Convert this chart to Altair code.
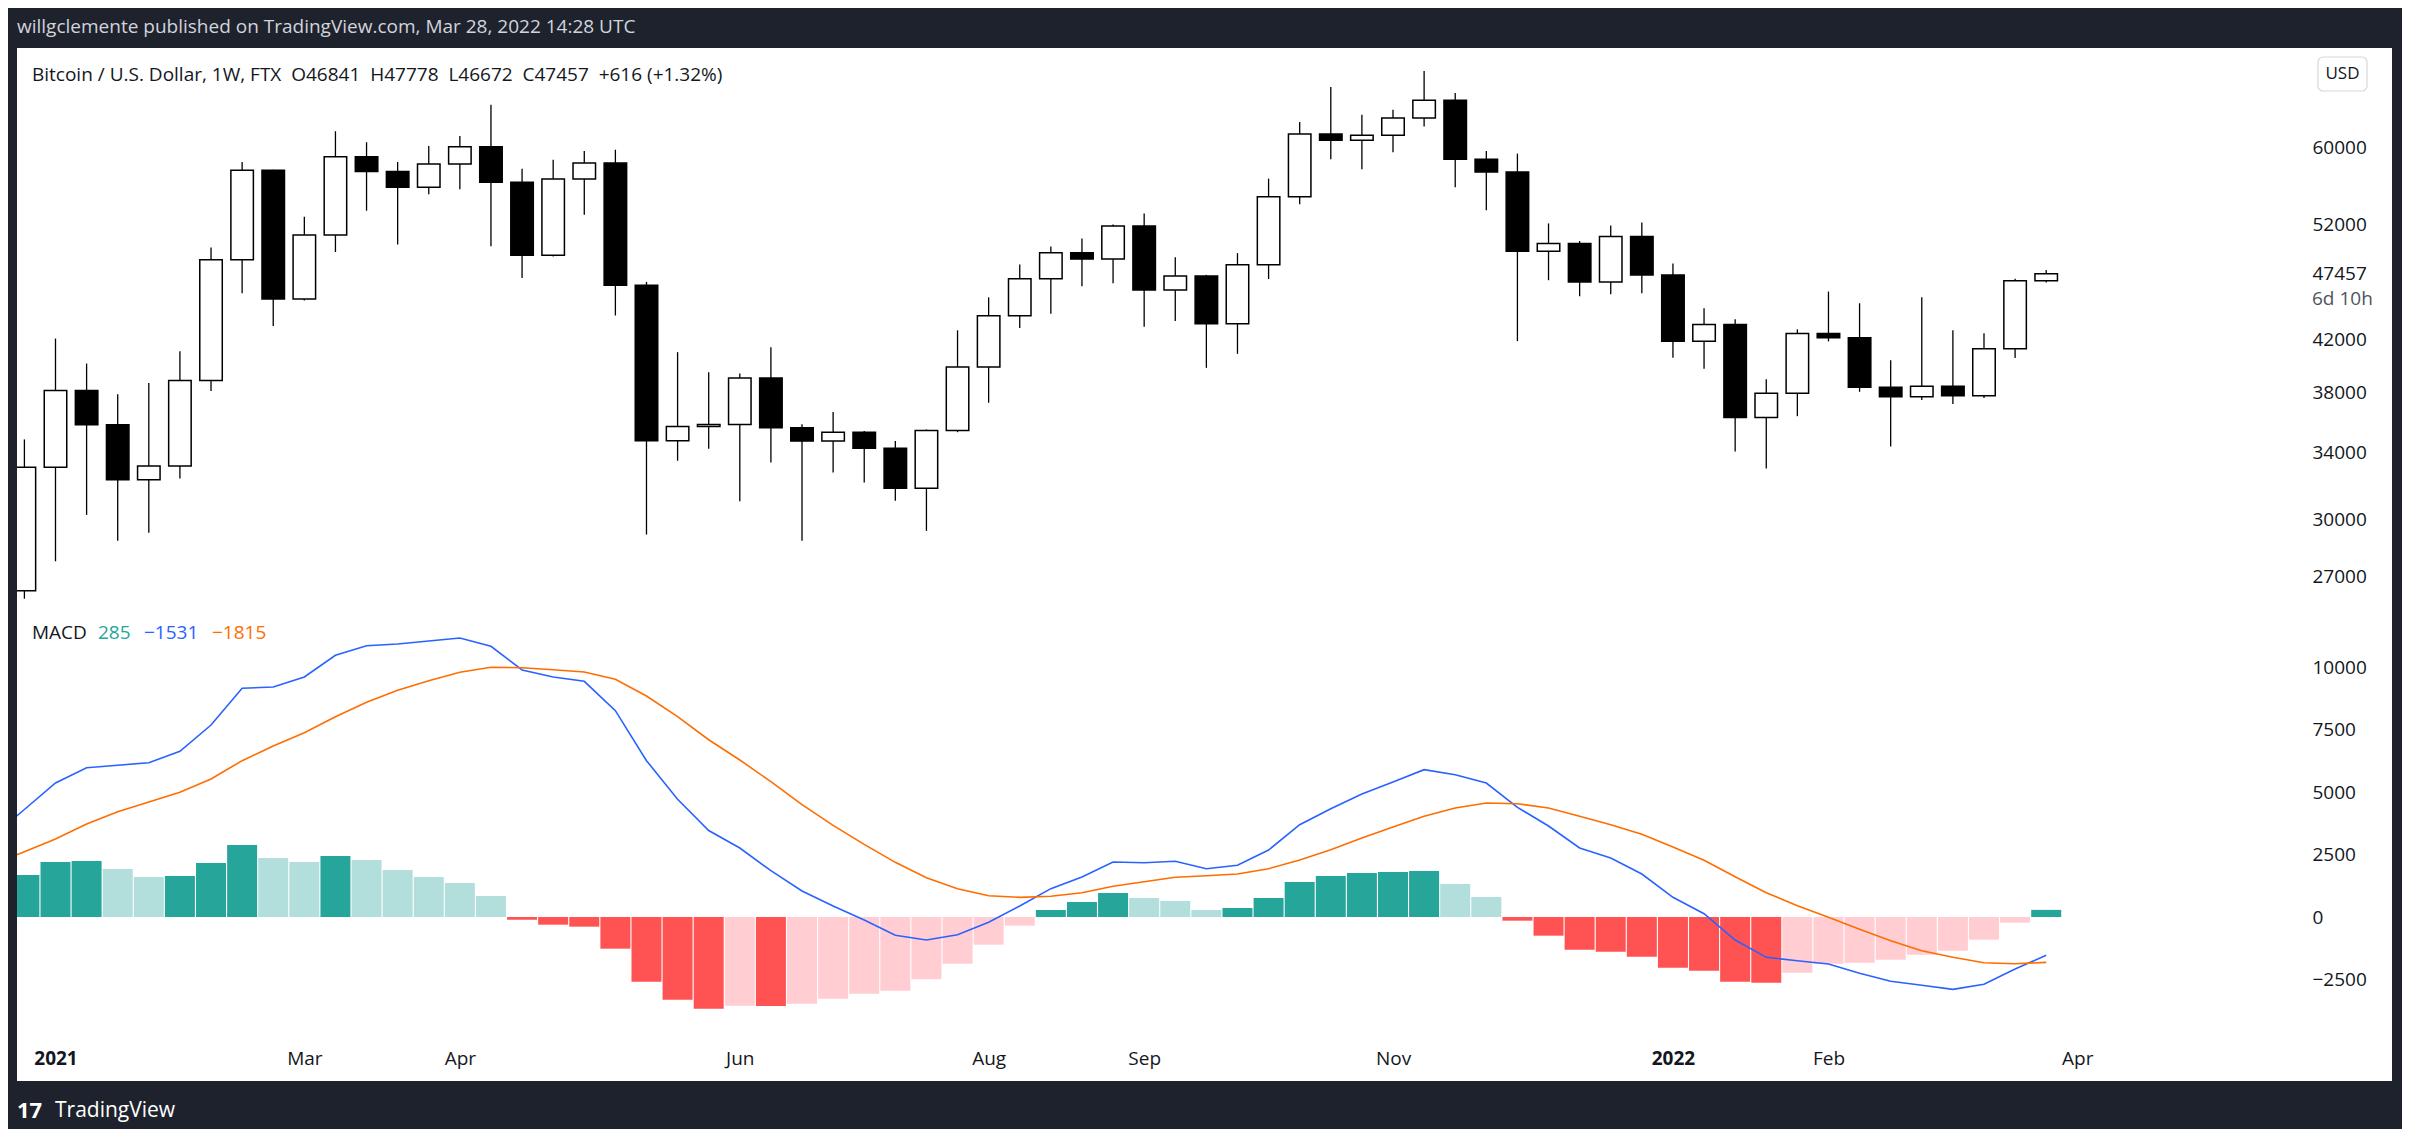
import altair as alt
import pandas as pd

# ---------------- data ----------------
dates = pd.date_range("2020-12-28", periods=66, freq="7D").strftime("%Y-%m-%d").tolist()
line_lead_date = "2020-12-21"

open_p = [26290, 33090, 38170, 35810, 32330, 33160, 38890, 48690, 57550, 45270,
          51010, 58990, 57400, 55750, 58210, 60100, 56270, 49120, 56610, 58330,
          46450, 34760, 35690, 35830, 39070, 35620, 34740, 35320, 34280, 31820,
          35440, 39880, 43870, 47010, 49330, 48760, 51860, 46040, 47260, 43230,
          48240, 54770, 61550, 60850, 61420, 63420, 65550, 58740, 57350, 49470,
          50190, 46730, 50850, 47340, 41850, 43170, 36300, 37970, 42440, 42120,
          38400, 37740, 38470, 37800, 41270, 46841]
high_p = [34850, 42050, 40140, 37910, 38710, 41060, 49830, 58440, 57600, 52770,
          61880, 60620, 58440, 60210, 61340, 64990, 57710, 58680, 59650, 59780,
          46730, 41000, 39500, 39400, 41380, 35850, 36670, 35400, 34740, 35500,
          42700, 45410, 48280, 49910, 50670, 52000, 53080, 48920, 47350, 49310,
          56650, 62960, 67190, 63790, 64390, 69220, 66430, 59650, 59350, 52110,
          50430, 51900, 52200, 48370, 44500, 43590, 38990, 42780, 45900, 44910,
          40380, 45410, 42700, 42470, 47010, 47778]
low_p = [25900, 27770, 30280, 28850, 29290, 32400, 38140, 45760, 43040, 45150,
         49410, 53360, 50100, 55020, 55540, 49940, 47070, 49000, 52970, 43900,
         29190, 33490, 34250, 31050, 33380, 28860, 32760, 32160, 31090, 29390,
         35320, 37310, 42890, 44050, 46360, 46610, 42980, 43440, 39820, 40870,
         46980, 54010, 58720, 57640, 59500, 62410, 55750, 53400, 41850, 46880,
         45500, 45660, 45760, 40570, 39750, 34070, 33010, 36390, 41830, 38080,
         34390, 37510, 37220, 37640, 40550, 46672]
close_p = [33090, 38170, 35810, 32330, 33160, 38890, 48690, 57550, 45270, 51010,
           58990, 57400, 55750, 58210, 60100, 56270, 49120, 56610, 58330, 46450,
           34760, 35690, 35830, 39070, 35620, 34740, 35320, 34280, 31820, 35440,
           39880, 43870, 47010, 49330, 48760, 51860, 46040, 47260, 43230, 48240,
           54770, 61550, 60850, 61420, 63420, 65550, 58740, 57350, 49470, 50190,
           46730, 50850, 47340, 41850, 43170, 36300, 37970, 42440, 42120, 38400,
           37740, 38470, 37800, 41270, 46841, 47457]

hist = [1680, 2200, 2240, 1920, 1600, 1640, 2160, 2880, 2360, 2200,
        2440, 2280, 1880, 1600, 1360, 840, -107, -307, -387, -1267,
        -2587, -3307, -3667, -3547, -3560, -3467, -3267, -3067, -2947, -2493,
        -1867, -1107, -347, 280, 600, 960, 760, 640, 280, 360,
        760, 1400, 1640, 1760, 1800, 1840, 1320, 800, -147, -747,
        -1307, -1387, -1587, -2027, -2147, -2587, -2627, -2227, -1867, -1827,
        -1707, -1507, -1347, -907, -227, 285]
macd_line = [4300, 5360, 5973, 6073, 6173, 6627, 7680, 9147, 9200, 9600,
             10467, 10853, 10920, 11040, 11160, 10827, 9880, 9600, 9427, 8253,
             6253, 4707, 3460, 2760, 1853, 1040, 440, -120, -733, -920,
             -707, -213, 440, 1133, 1600, 2200, 2173, 2227, 1933, 2067,
             2680, 3693, 4333, 4920, 5400, 5893, 5693, 5360, 4387, 3640,
             2760, 2360, 1720, 787, 133, -920, -1613, -1747, -1880, -2253,
             -2573, -2733, -2893, -2693, -2080, -1531]
signal_line = [2613, 3120, 3720, 4213, 4600, 4987, 5520, 6253, 6840, 7373,
               8013, 8587, 9067, 9453, 9787, 9987, 9973, 9893, 9800, 9507,
               8840, 8013, 7090, 6280, 5413, 4493, 3667, 2907, 2187, 1573,
               1133, 853, 787, 827, 973, 1227, 1413, 1587, 1653, 1720,
               1933, 2280, 2693, 3160, 3600, 4027, 4360, 4560, 4533, 4360,
               4027, 3693, 3307, 2800, 2267, 1613, 973, 453, -13, -493,
               -947, -1347, -1613, -1827, -1867, -1815]
macd_lead = 3250
signal_lead = 2100

price_ticks = [27000, 30000, 34000, 38000, 42000, 47457, 52000, 60000]
macd_ticks = [-2500, 0, 2500, 5000, 7500, 10000]
time_tick_dates = ["2021-01-04", "2021-03-01", "2021-04-05", "2021-06-07", "2021-08-02",
                   "2021-09-06", "2021-11-01", "2022-01-03", "2022-02-07", "2022-04-04"]

header_text = "willgclemente published on TradingView.com, Mar 28, 2022 14:28 UTC"
symbol_text = ("Bitcoin / U.S. Dollar, 1W, FTX \u00a0O46841 \u00a0H47778 \u00a0L46672 "
               "\u00a0C47457 \u00a0+616 (+1.32%)")
countdown_text = "6d 10h"
macd_legend = ["MACD", "285", "\u22121531", "\u22121815"]

# ---------------- layout / style ----------------
FONT = "Open Sans"
INK = "#131722"
W = 2375
H_HEAD, H_PRICE, H_MACD, H_FOOT = 40, 564, 469, 48


def ms(s):
    return int(pd.Timestamp(s, tz="UTC").value // 10**6)


x_scale = alt.Scale(type="utc", domain=[ms("2020-12-26 08:04"), ms("2022-06-13 19:41")],
                    nice=False, padding=0)
price_scale = alt.Scale(type="log", domain=[25267, 72253], nice=False, zero=False)
macd_scale = alt.Scale(domain=[-6560, 12200], nice=False, zero=False)

axis_common = dict(ticks=False, tickSize=0, domain=False, grid=False, title=None,
                   labelFontSize=19, labelColor=INK, labelFont=FONT,
                   labelOverlap=False, labelFlush=False, labelPadding=0)

price_axis = alt.Axis(orient="right", values=price_ticks, format="d", offset=-80,
                      labelAlign="left", labelBaseline="middle", **axis_common)
macd_axis = alt.Axis(orient="right", values=macd_ticks, format="d", offset=-80,
                     labelAlign="left", labelBaseline="middle", **axis_common)
time_axis = alt.Axis(
    orient="bottom", values=[ms(d) for d in time_tick_dates], offset=-23,
    labelAlign="center", labelBaseline="middle",
    labelExpr="utcmonth(datum.value) == 0 ? utcFormat(datum.value, '%Y') : utcFormat(datum.value, '%b')",
    labelFontWeight={"condition": {"test": "utcmonth(datum.value) == 0", "value": "bold"},
                     "value": "normal"},
    **axis_common)


def label(text, x, y, color, size=19, weight="normal", align="left"):
    return alt.Chart(pd.DataFrame({"t": [text]})).mark_text(
        align=align, baseline="middle", font=FONT, fontSize=size,
        fontWeight=weight, color=color
    ).encode(text="t:N", x=alt.value(x), y=alt.value(y))


# ---------------- price pane ----------------
candles = pd.DataFrame({"date": dates, "open": open_p, "high": high_p,
                        "low": low_p, "close": close_p})
candles["dir"] = ["up" if c >= o else "down" for o, c in zip(open_p, close_p)]

cbase = alt.Chart(candles)
px = alt.X("date:T", scale=x_scale, axis=None)

wicks = cbase.mark_rule(color="#000000", strokeWidth=1.3, clip=True).encode(
    x=px, y=alt.Y("low:Q", scale=price_scale, axis=price_axis), y2="high:Q")
bodies = cbase.mark_bar(size=22.5, stroke="#000000", strokeWidth=1.5, clip=True).encode(
    x=px,
    y=alt.Y("open:Q", scale=price_scale, axis=price_axis),
    y2="close:Q",
    fill=alt.Fill("dir:N", scale=alt.Scale(domain=["up", "down"], range=["#FFFFFF", "#000000"]),
                  legend=None))
countdown = alt.Chart(pd.DataFrame({"close": [close_p[-1]], "t": [countdown_text]})).mark_text(
    align="left", baseline="middle", dy=25, font=FONT, fontSize=19, color="#50535E"
).encode(x=alt.value(W - 80), y=alt.Y("close:Q", scale=price_scale, axis=price_axis), text="t:N")

usd_box = alt.Chart(pd.DataFrame({"t": ["USD"]})).mark_rect(
    fill="#FFFFFF", stroke="#D6D8DF", strokeWidth=1.2, cornerRadius=5
).encode(x=alt.value(W - 74), x2=alt.value(W - 25), y=alt.value(9), y2=alt.value(43))
usd_text = label("USD", W - 49.5, 26, INK, size=17, align="center")
symbol = label(symbol_text, 15, 27, INK)

price = alt.layer(wicks, bodies, countdown, symbol, usd_box, usd_text).properties(
    width=W, height=H_PRICE, view=alt.ViewBackground(fill="#FFFFFF", strokeWidth=0))

# ---------------- MACD pane ----------------
prev = [macd_lead - signal_lead] + hist[:-1]
states = []
for h, p in zip(hist, prev):
    if h >= 0:
        states.append("pos_up" if h > p else "pos_down")
    else:
        states.append("neg_down" if h < p else "neg_up")

hist_df = pd.DataFrame({"date": dates, "hist": hist, "state": states})
lines_df = pd.DataFrame({"date": [line_lead_date] + dates,
                         "macd": [macd_lead] + macd_line,
                         "signal": [signal_lead] + signal_line})

mx = alt.X("date:T", scale=x_scale, axis=time_axis)
bars = alt.Chart(hist_df).mark_bar(size=30, clip=True).encode(
    x=mx,
    y=alt.Y("hist:Q", scale=macd_scale, axis=macd_axis),
    y2=alt.datum(0),
    color=alt.Color("state:N", scale=alt.Scale(
        domain=["pos_up", "pos_down", "neg_down", "neg_up"],
        range=["#26A69A", "#B2DFDB", "#FF5252", "#FFCDD2"]), legend=None))
macd_l = alt.Chart(lines_df).mark_line(color="#2962FF", strokeWidth=1.6, clip=True).encode(
    x=mx, y=alt.Y("macd:Q", scale=macd_scale, axis=macd_axis))
signal_l = alt.Chart(lines_df).mark_line(color="#FF6D00", strokeWidth=1.6, clip=True).encode(
    x=mx, y=alt.Y("signal:Q", scale=macd_scale, axis=macd_axis))

leg = [label(macd_legend[0], 15, 20.5, INK),
       label(macd_legend[1], 81, 20.5, "#26A69A"),
       label(macd_legend[2], 127, 20.5, "#2962FF"),
       label(macd_legend[3], 195, 20.5, "#FF6D00")]

macd = alt.layer(bars, macd_l, signal_l, *leg).properties(
    width=W, height=H_MACD, view=alt.ViewBackground(fill="#FFFFFF", strokeWidth=0))

# ---------------- header / footer ----------------
header = label(header_text, 0, 19, "#D1D4DC").properties(width=W, height=H_HEAD)
footer = alt.layer(
    label("17", 0, 30, "#FFFFFF", size=22, weight="bold"),
    label("TradingView", 38, 30, "#FFFFFF", size=21),
).properties(width=W, height=H_FOOT)

chart = alt.vconcat(header, price, macd, footer, spacing=0).configure(
    background="#1E222D",
    padding={"left": 9, "right": 10, "top": 0, "bottom": 0},
).configure_view(strokeWidth=0)

chart.save("out.html", embed_options={"renderer": "svg", "actions": False})
